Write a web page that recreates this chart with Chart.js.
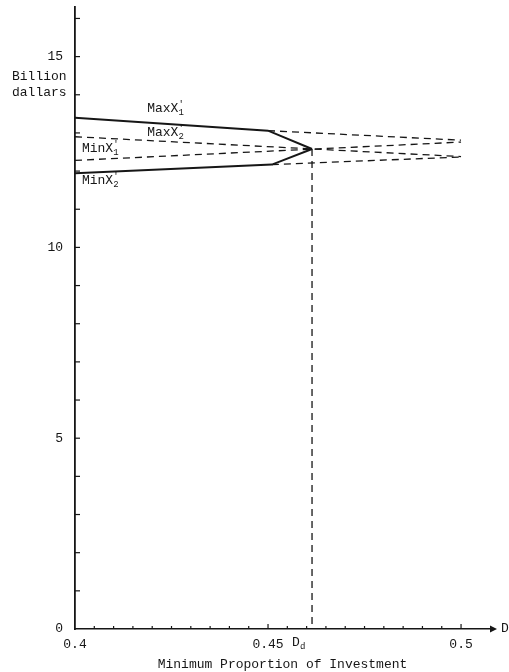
<!DOCTYPE html>
<html>
<head>
<meta charset="utf-8">
<script src="https://cdn.jsdelivr.net/npm/chart.js@4"></script>
<style>
  html, body { margin: 0; padding: 0; background: #fff; }
  #wrap { width: 509px; height: 672px; }
</style>
</head>
<body>
<div id="wrap"><canvas id="invChart"></canvas></div>
<script>
// valori (miliardi di dollari)
var dD = 0.4614;                         // D_d, dove le curve si incontrano
var maxX1 = [[0.4, 13.40], [0.45, 13.06], [dD, 12.58]];
var minX2 = [[0.4, 11.94], [0.451, 12.17], [dD, 12.58]];
var maxX1Ext = [[0.45, 13.06], [0.5, 12.81]];
var minX2Ext = [[0.451, 12.17], [0.5, 12.37]];
var maxX2 = [[0.4, 12.90], [0.5, 12.38]];
var minX1 = [[0.4, 12.28], [0.5, 12.76]];
var ddLine = [[dD, 12.58], [dD, 0]];

var xTickLabels = [0.4, 0.45, 0.5];
var yTickLabels = [0, 5, 10, 15];

var INK = '#161616';
var FONT = "'Liberation Mono', 'DejaVu Sans Mono', monospace";

function pts(arr) {
    return arr.map(function (p) { return { x: p[0], y: p[1] }; });
}

function serie(label, arr, dashed) {
    return {
        label: label,
        data: pts(arr),
        showLine: true,
        borderColor: INK,
        borderWidth: dashed ? 1.3 : 2,
        borderDash: dashed ? [7, 5] : [],
        pointRadius: 0,
        fill: false
    };
}

var xTicks = [];
for (var i = 0; i <= 20; i++) xTicks.push(Math.round((0.4 + i * 0.005) * 1000) / 1000);
var yTicks = [];
for (var j = 0; j <= 16; j++) yTicks.push(j);

// tacche interne, freccia, etichette delle curve
var decorazioni = {
    id: 'decorazioni',
    afterDraw: function (chart) {
        var c = chart.ctx, xs = chart.scales.x, ys = chart.scales.y, a = chart.chartArea;
        c.save();
        c.strokeStyle = INK;
        c.fillStyle = INK;
        c.lineWidth = 1.2;
        // tacche asse y
        yTicks.forEach(function (v) {
            if (v === 0) return;
            var py = ys.getPixelForValue(v);
            c.beginPath(); c.moveTo(a.left, py); c.lineTo(a.left + 5, py); c.stroke();
        });
        // tacche asse x
        xTicks.forEach(function (v) {
            if (v === 0.4) return;
            var px = xs.getPixelForValue(v);
            var len = (v === 0.45 || v === 0.5) ? 5 : 3;
            c.beginPath(); c.moveTo(px, a.bottom); c.lineTo(px, a.bottom - len); c.stroke();
        });
        // freccia asse x
        c.beginPath();
        c.moveTo(a.right, a.bottom - 3.5);
        c.lineTo(a.right + 7, a.bottom);
        c.lineTo(a.right, a.bottom + 3.5);
        c.closePath(); c.fill();

        c.font = '13px ' + FONT;
        c.textBaseline = 'middle';
        c.textAlign = 'left';
        c.fillText('D', a.right + 11, a.bottom);

        // D_d sotto l'asse
        var pxD = xs.getPixelForValue(dD);
        c.fillText('D', pxD - 20, a.bottom + 14);
        c.font = '9px ' + FONT;
        c.fillText('d', pxD - 12, a.bottom + 18);

        // titolo asse y
        c.font = '13px ' + FONT;
        c.fillText('Billion', 12, 77);
        c.fillText('dallars', 12, 93);

        // etichette delle curve
        function etichetta(x, y, sub) {
            var px = xs.getPixelForValue(x), py = ys.getPixelForValue(y);
            c.font = '13px ' + FONT;
            c.fillText(sub[0], px, py);
            var w = c.measureText(sub[0]).width;
            c.font = '9px ' + FONT;
            c.fillText("'", px + w, py - 4);
            c.fillText(sub[1], px + w, py + 4);
        }
        etichetta(0.4187, 13.63, ['MaxX', '1']);
        etichetta(0.4187, 13.00, ['MaxX', '2']);
        etichetta(0.4018, 12.59, ['MinX', '1']);
        etichetta(0.4018, 11.74, ['MinX', '2']);
        c.restore();
    }
};

var ctx = document.getElementById('invChart').getContext('2d');
window.invChart = new Chart(ctx, {
    type: 'scatter',
    data: {
        datasets: [
            serie('MaxX1', maxX1, false),
            serie('MinX2', minX2, false),
            serie('MaxX1 ext', maxX1Ext, true),
            serie('MinX2 ext', minX2Ext, true),
            serie('MaxX2', maxX2, true),
            serie('MinX1', minX1, true),
            serie('Dd', ddLine, true)
        ]
    },
    plugins: [decorazioni],
    options: {
        responsive: true,
        maintainAspectRatio: false,
        animation: false,
        layout: { padding: { top: 7, right: 19, left: 0, bottom: 0 } },
        plugins: { legend: { display: false }, tooltip: { enabled: false } },
        scales: {
            x: {
                type: 'linear',
                min: 0.4,
                max: 0.5075,
                afterBuildTicks: function (s) { s.ticks = xTicks.map(function (v) { return { value: v }; }); },
                afterFit: function (s) { s.height = 43; s.paddingLeft = 0; s.paddingRight = 0; },
                grid: { drawOnChartArea: false, drawTicks: false },
                border: { color: INK, width: 1.6 },
                ticks: {
                    autoSkip: false,
                    maxRotation: 0,
                    padding: 8,
                    color: INK,
                    font: { family: FONT, size: 13 },
                    callback: function (v) {
                        return xTickLabels.indexOf(Math.round(v * 1000) / 1000) >= 0 ? String(Math.round(v * 1000) / 1000) : '';
                    }
                },
                title: {
                    display: true,
                    text: 'Minimum Proportion of Investment',
                    color: INK,
                    font: { family: FONT, size: 13 },
                    padding: { top: 0, bottom: 0 }
                }
            },
            y: {
                type: 'linear',
                min: 0,
                max: 16.3,
                afterBuildTicks: function (s) { s.ticks = yTicks.map(function (v) { return { value: v }; }); },
                afterFit: function (s) { s.width = 75; s.paddingTop = 0; s.paddingBottom = 0; },
                grid: { drawOnChartArea: false, drawTicks: false },
                border: { color: INK, width: 1.8 },
                ticks: {
                    autoSkip: false,
                    padding: 12,
                    color: INK,
                    font: { family: FONT, size: 13 },
                    callback: function (v) {
                        return yTickLabels.indexOf(v) >= 0 ? String(v) : '';
                    }
                }
            }
        }
    }
});
</script>
</body>
</html>
